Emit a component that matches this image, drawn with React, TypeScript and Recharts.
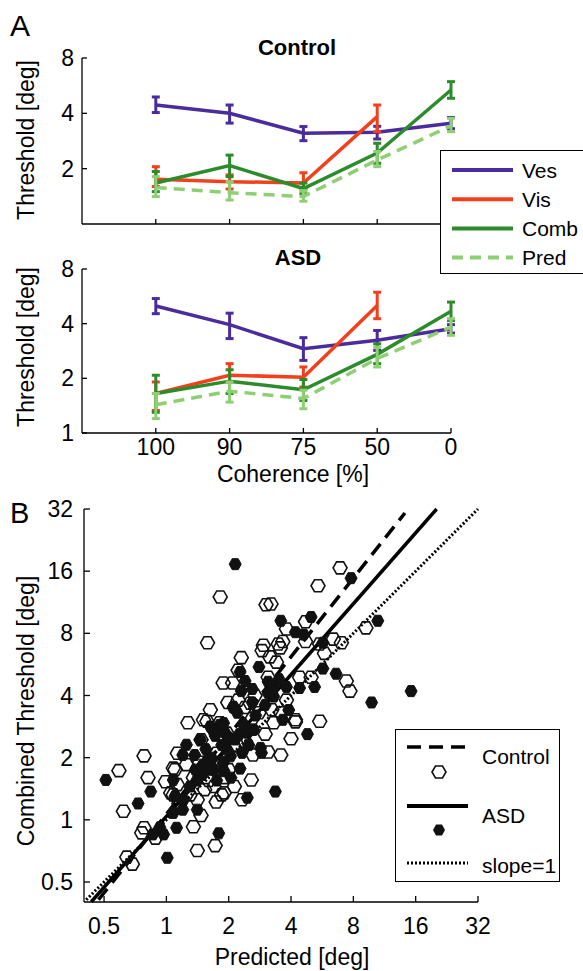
import React from 'react';
import {
  LineChart,
  Line,
  XAxis,
  YAxis,
  ErrorBar,
  ScatterChart,
  Scatter,
  ReferenceLine,
} from 'recharts';

const FONT = '"Liberation Sans", Arial, Helvetica, sans-serif';

const COHERENCE = ['100', '90', '75', '50', '0'];

// panel A, control group (threshold in deg, with [low, high] error range)
const VES_CTRL = [4.44, 4.0, 3.12, 3.16, 3.53];
const VES_CTRL_CI = [[4.04, 4.91], [3.54, 4.44], [2.84, 3.39], [2.9, 3.4], [3.3, 3.8]];
const VIS_CTRL = [1.75, 1.7, 1.67, 3.84, null];
const VIS_CTRL_CI = [[1.6, 2.05], [1.55, 1.85], [1.55, 1.9], [3.18, 4.44], null];
const COMB_CTRL = [1.67, 2.08, 1.56, 2.43, 5.36];
const COMB_CTRL_CI = [[1.5, 1.93], [1.81, 2.37], [1.46, 1.67], [2.14, 2.75], [4.83, 5.95]];
const PRED_CTRL = [1.58, 1.48, 1.41, 2.23, 3.42];
const PRED_CTRL_CI = [[1.41, 1.81], [1.35, 1.7], [1.33, 1.52], [2.05, 2.48], [3.18, 3.76]];

// panel A, ASD group
const VES_ASD = [5.0, 3.95, 2.91, 3.24, 3.75];
const VES_ASD_CI = [[4.54, 5.5], [3.31, 4.57], [2.51, 3.35], [2.85, 3.67], [3.55, 3.95]];
const VIS_ASD = [1.65, 2.08, 2.03, 5.04, null];
const VIS_ASD_CI = [[1.33, 1.91], [1.91, 2.41], [1.79, 2.31], [4.26, 5.96], null];
const COMB_ASD = [1.65, 1.93, 1.73, 2.71, 4.68];
const COMB_ASD_CI = [[1.3, 2.08], [1.65, 2.23], [1.51, 1.97], [2.41, 3.1], [4.16, 5.26]];
const PRED_ASD = [1.43, 1.7, 1.55, 2.57, 3.83];
const PRED_ASD_CI = [[1.2, 1.65], [1.48, 1.91], [1.36, 1.72], [2.31, 2.97], [3.45, 4.26]];

const THRESHOLD_TICKS = [1, 2, 4, 8];
const LOG_TICKS = [0.5, 1, 2, 4, 8, 16, 32];

// panel B: [predicted, combined] per subject/condition
const CONTROL_POINTS: [number, number][] = [
  [6.9, 16.6], [5.4, 13.6], [1.82, 12.0], [3.03, 11.0], [3.2, 11.1], [1.58, 7.2], [9.2, 8.5],
  [7.0, 7.2], [6.4, 7.5], [5.8, 6.4], [4.7, 9.1], [3.8, 8.4], [4.7, 7.3], [5.5, 7.1],
  [2.94, 7.0], [2.9, 6.6], [3.47, 7.1], [3.65, 7.3], [3.16, 6.15], [3.4, 5.8], [2.3, 6.1],
  [2.22, 5.3], [1.88, 4.6], [2.09, 4.6], [2.68, 4.0], [3.1, 4.9], [4.4, 4.9], [7.4, 4.7],
  [7.7, 4.2], [5.0, 4.9], [1.98, 3.7], [2.4, 3.5], [3.8, 3.8], [3.57, 3.3], [4.2, 3.05],
  [5.5, 3.0], [3.3, 2.95], [1.27, 2.95], [1.57, 3.0], [1.81, 2.95], [2.22, 3.8],
  [0.78, 2.04], [0.59, 1.73], [0.815, 1.6], [0.62, 1.1], [0.78, 0.915], [0.76, 0.865],
  [0.644, 0.66], [0.685, 0.61], [0.99, 1.53], [1.1, 1.75], [1.08, 1.32], [1.13, 1.48],
  [1.35, 0.925], [1.47, 1.05], [1.41, 0.71], [1.72, 0.75], [1.85, 1.32], [1.74, 1.22],
  [1.53, 1.4], [2.57, 1.56], [2.32, 1.25], [3.1, 2.13], [3.57, 2.06], [4.0, 2.47],
  [4.2, 2.98], [2.62, 2.06], [1.47, 2.44], [1.3, 1.32], [1.41, 1.25], [1.85, 1.89],
  [2.13, 1.45], [1.08, 1.78], [1.13, 2.1], [0.885, 0.815], [1.05, 1.35], [2.54, 3.67],
  [3.23, 3.41], [1.51, 3.05], [1.96, 2.63], [1.63, 3.41], [3.55, 6.8],
  [1.5, 1.75], [1.6, 1.55], [1.7, 1.45], [1.9, 1.6], [2.0, 1.75], [1.35, 1.6], [1.45, 1.9],
  [2.2, 2.3], [2.4, 2.4], [1.75, 2.1], [1.25, 1.85], [2.6, 3.1], [2.8, 3.3], [3.0, 2.6],
  [1.15, 1.2], [1.9, 1.35],
];

const ASD_POINTS: [number, number][] = [
  [2.15, 17.3], [7.8, 14.8], [10.5, 9.2], [3.57, 9.2], [5.0, 9.6], [4.2, 8.1], [4.6, 7.9],
  [5.7, 7.2], [5.7, 5.4], [6.6, 5.1], [5.2, 4.4], [15.2, 4.2], [9.8, 3.7], [2.8, 5.5],
  [2.27, 5.2], [2.4, 4.7], [2.3, 4.2], [3.1, 4.66], [3.3, 4.4], [3.8, 4.4], [4.4, 4.35],
  [3.1, 4.1], [2.6, 3.7], [2.1, 3.5], [2.2, 3.3], [3.9, 3.4], [3.65, 3.05], [4.8, 2.6],
  [1.8, 2.8], [1.67, 2.73],
  [0.51, 1.56], [0.73, 1.2], [0.84, 1.37], [1.2, 1.12], [1.08, 1.56], [1.2, 2.06],
  [1.37, 2.06], [1.41, 1.12], [1.01, 0.655], [1.12, 0.915], [0.97, 0.85], [1.79, 0.86],
  [1.49, 1.65], [1.7, 1.75], [2.05, 1.6], [2.27, 1.77], [1.88, 1.89], [1.92, 2.64],
  [1.81, 2.88], [2.32, 2.11], [2.85, 2.23], [2.46, 2.64], [2.62, 2.73], [3.36, 1.37],
  [2.46, 1.28], [2.88, 2.11], [1.6, 1.75], [1.25, 2.31], [0.86, 0.85], [0.93, 0.92],
  [2.11, 3.53], [1.89, 2.94], [2.64, 2.73], [2.04, 2.03], [1.46, 2.44], [1.63, 2.83],
  [3.3, 3.95], [1.08, 1.08], [1.21, 1.25],
  [1.5, 1.85], [1.65, 2.0], [1.75, 1.55], [1.95, 2.2], [1.4, 1.55], [2.15, 2.45],
  [2.35, 2.9], [2.7, 3.2], [3.0, 3.6], [1.3, 1.45], [1.1, 1.3], [1.55, 2.2], [2.5, 2.3],
  [1.58, 1.95], [1.85, 2.3], [2.0, 2.5], [1.72, 2.55], [2.25, 2.6], [1.38, 1.75],
  [1.9, 1.72], [2.6, 4.3], [3.5, 4.8],
];

// regression lines, end points in deg
const FIT_CONTROL = [[0.47, 0.41], [14.2, 30.6]];
const FIT_ASD = [[0.434, 0.401], [20.2, 32]];
const FIT_UNITY = [[0.41, 0.41], [32, 32]];

const COLORS = {
  ves: '#4b2c9c',
  vis: '#f2401c',
  comb: '#2c8c2c',
  pred: '#8ecf74',
};

const SERIES = [
  { key: 'ves', label: 'Ves', color: COLORS.ves },
  { key: 'vis', label: 'Vis', color: COLORS.vis },
  { key: 'comb', label: 'Comb', color: COLORS.comb },
  { key: 'pred', label: 'Pred', color: COLORS.pred, dash: '11 7' },
];

const errOf = (v: number | null, ci: number[] | null) =>
  v == null || ci == null ? undefined : [v - ci[0], ci[1] - v];

const buildRows = (sets: [(number | null)[], (number[] | null)[]][]) =>
  COHERENCE.map((_c, i) => {
    const row: Record<string, any> = { pos: i + 1 };
    SERIES.forEach((s, k) => {
      const [vals, cis] = sets[k];
      row[s.key] = vals[i];
      row[`${s.key}Err`] = errOf(vals[i], cis[i]);
    });
    return row;
  });

const CONTROL_ROWS = buildRows([
  [VES_CTRL, VES_CTRL_CI],
  [VIS_CTRL, VIS_CTRL_CI],
  [COMB_CTRL, COMB_CTRL_CI],
  [PRED_CTRL, PRED_CTRL_CI],
]);
const ASD_ROWS = buildRows([
  [VES_ASD, VES_ASD_CI],
  [VIS_ASD, VIS_ASD_CI],
  [COMB_ASD, COMB_ASD_CI],
  [PRED_ASD, PRED_ASD_CI],
]);

const axisStroke = { stroke: '#000', strokeWidth: 1.3 };
const tickText = { fill: '#000', fontSize: 23, fontFamily: FONT };

const hexPoints = (cx: number, cy: number, w: number, h: number) =>
  [
    [cx - w, cy],
    [cx - w / 2, cy - h],
    [cx + w / 2, cy - h],
    [cx + w, cy],
    [cx + w / 2, cy + h],
    [cx - w / 2, cy + h],
  ]
    .map((p) => p.join(','))
    .join(' ');

const OpenHex = (props: any) => (
  <polygon points={hexPoints(props.cx, props.cy, 7, 6)} fill="none" stroke="#111" strokeWidth={1.6} />
);
const FilledHex = (props: any) => (
  <polygon points={hexPoints(props.cx, props.cy, 6, 5.5)} fill="#111" stroke="#111" strokeWidth={1} />
);

interface PanelProps {
  rows: Record<string, any>[];
  top: number;
  height: number;
  marginTop: number;
  showLabels: boolean;
}

const ThresholdPanel: React.FC<PanelProps> = ({ rows, top, height, marginTop, showLabels }) => (
  <div style={{ position: 'absolute', left: 0, top }}>
    <LineChart
      width={583}
      height={height}
      data={rows}
      margin={{ top: marginTop, right: 132, bottom: 0, left: 0 }}
    >
      <XAxis
        type="number"
        dataKey="pos"
        domain={[0, 5]}
        ticks={[1, 2, 3, 4, 5]}
        tickFormatter={(v) => (showLabels ? COHERENCE[v - 1] : '')}
        height={showLabels ? 40 : 10}
        tickSize={-5}
        tickMargin={11}
        axisLine={axisStroke}
        tickLine={axisStroke}
        tick={tickText}
      />
      <YAxis
        scale="log"
        domain={[1, 8]}
        ticks={THRESHOLD_TICKS}
        width={82}
        tickSize={-5}
        tickMargin={13}
        axisLine={axisStroke}
        tickLine={axisStroke}
        tick={tickText}
        tickFormatter={(v) => String(v)}
      />
      {SERIES.map((s) => (
        <Line
          key={s.key}
          dataKey={s.key}
          stroke={s.color}
          strokeWidth={3.5}
          strokeDasharray={s.dash}
          dot={false}
          activeDot={false}
          isAnimationActive={false}
        >
          <ErrorBar dataKey={`${s.key}Err`} width={4} strokeWidth={3} stroke={s.color} direction="y" />
        </Line>
      ))}
    </LineChart>
  </div>
);

const LegendA = () => (
  <div
    style={{
      position: 'absolute',
      left: 440,
      top: 150,
      width: 160,
      height: 124,
      border: '1.5px solid #000',
      background: '#fff',
      boxSizing: 'border-box',
    }}
  >
    <svg width={160} height={124} style={{ position: 'absolute', left: -1.5, top: -1.5 }}>
      {SERIES.map((s, i) => {
        const y = 20 + i * 29.2;
        return (
          <g key={s.key}>
            <line x1={12} x2={73} y1={y} y2={y} stroke={s.color} strokeWidth={4} strokeDasharray={s.dash} />
            <text x={82} y={y} dominantBaseline="central" fontSize={21} fontFamily={FONT} fill="#000">
              {s.label}
            </text>
          </g>
        );
      })}
    </svg>
  </div>
);

const LegendB = () => (
  <div
    style={{
      position: 'absolute',
      left: 395,
      top: 729,
      width: 165,
      height: 153,
      border: '1.5px solid #000',
      background: '#fff',
      boxSizing: 'border-box',
    }}
  >
    <svg width={165} height={153} style={{ position: 'absolute', left: -1.5, top: -1.5 }}>
      <line x1={12} x2={73} y1={18} y2={18} stroke="#000" strokeWidth={3.5} strokeDasharray="14 8" />
      <text x={87} y={27} dominantBaseline="central" fontSize={21} fontFamily={FONT}>Control</text>
      <polygon points={hexPoints(44, 43, 7, 6)} fill="none" stroke="#111" strokeWidth={1.6} />
      <line x1={12} x2={73} y1={77} y2={77} stroke="#000" strokeWidth={4} />
      <text x={87} y={86} dominantBaseline="central" fontSize={21} fontFamily={FONT}>ASD</text>
      <polygon points={hexPoints(44, 101, 6, 5.5)} fill="#111" />
      <line x1={12} x2={73} y1={134} y2={134} stroke="#000" strokeWidth={3} strokeDasharray="2 2" />
      <text x={87} y={136} dominantBaseline="central" fontSize={21} fontFamily={FONT}>slope=1</text>
    </svg>
  </div>
);

const VerticalLabel = ({ text, cx, cy }: { text: string; cx: number; cy: number }) => (
  <div
    style={{
      position: 'absolute',
      left: cx - 200,
      top: cy - 15,
      width: 400,
      height: 30,
      lineHeight: '30px',
      textAlign: 'center',
      transform: 'rotate(-90deg)',
      fontSize: 23,
      fontFamily: FONT,
      whiteSpace: 'nowrap',
    }}
  >
    {text}
  </div>
);

const CenteredText = ({ text, cx, cy, size, bold }: { text: string; cx: number; cy: number; size: number; bold?: boolean }) => (
  <div
    style={{
      position: 'absolute',
      left: cx - 150,
      top: cy - size / 2,
      width: 300,
      height: size,
      lineHeight: `${size}px`,
      textAlign: 'center',
      fontSize: size,
      fontWeight: bold ? 'bold' : 'normal',
      fontFamily: FONT,
      whiteSpace: 'nowrap',
    }}
  >
    {text}
  </div>
);

const segment = (pts: number[][]) => pts.map(([x, y]) => ({ x, y }));

export default function App() {
  return (
    <div
      style={{
        position: 'absolute',
        left: 0,
        top: 0,
        width: 583,
        height: 971,
        overflow: 'hidden',
        background: '#fff',
        fontFamily: FONT,
        color: '#000',
      }}
    >
      <ThresholdPanel rows={CONTROL_ROWS} top={0} height={234} marginTop={58} showLabels={false} />
      <ThresholdPanel rows={ASD_ROWS} top={240} height={233} marginTop={29} showLabels />

      <div style={{ position: 'absolute', left: 0, top: 490 }}>
        <ScatterChart width={583} height={462} margin={{ top: 19, right: 105, bottom: 0, left: 0 }}>
          <XAxis
            type="number"
            dataKey="x"
            scale="log"
            domain={[0.4, 32]}
            ticks={LOG_TICKS}
            height={50}
            tickSize={-6}
            tickMargin={22}
            axisLine={axisStroke}
            tickLine={axisStroke}
            tick={tickText}
            tickFormatter={(v) => String(v)}
          />
          <YAxis
            type="number"
            dataKey="y"
            scale="log"
            domain={[0.4, 32]}
            ticks={LOG_TICKS}
            width={84}
            tickSize={-6}
            tickMargin={17}
            axisLine={axisStroke}
            tickLine={axisStroke}
            tick={tickText}
            tickFormatter={(v) => String(v)}
          />
          <Scatter
            data={CONTROL_POINTS.map(([x, y]) => ({ x, y }))}
            shape={OpenHex}
            isAnimationActive={false}
          />
          <Scatter
            data={ASD_POINTS.map(([x, y]) => ({ x, y }))}
            shape={FilledHex}
            isAnimationActive={false}
          />
          <ReferenceLine segment={segment(FIT_CONTROL)} stroke="#000" strokeWidth={3.5} strokeDasharray="14 8" ifOverflow="visible" />
          <ReferenceLine segment={segment(FIT_ASD)} stroke="#000" strokeWidth={3.5} ifOverflow="visible" />
          <ReferenceLine segment={segment(FIT_UNITY)} stroke="#000" strokeWidth={3} strokeDasharray="2 2" ifOverflow="visible" />
        </ScatterChart>
      </div>

      <LegendA />
      <LegendB />

      <div style={{ position: 'absolute', left: 10, top: 10, fontSize: 30, lineHeight: '32px' }}>A</div>
      <div style={{ position: 'absolute', left: 10, top: 497, fontSize: 29, lineHeight: '32px' }}>B</div>

      <CenteredText text="Control" cx={297} cy={48} size={22} bold />
      <CenteredText text="ASD" cx={298} cy={258} size={22} bold />
      <CenteredText text="Coherence [%]" cx={293} cy={474} size={23} />
      <CenteredText text="Predicted [deg]" cx={292} cy={957} size={23} />

      <VerticalLabel text="Threshold [deg]" cx={26} cy={140} />
      <VerticalLabel text="Threshold [deg]" cx={26} cy={347} />
      <VerticalLabel text="Combined Threshold [deg]" cx={26} cy={711} />
    </div>
  );
}
